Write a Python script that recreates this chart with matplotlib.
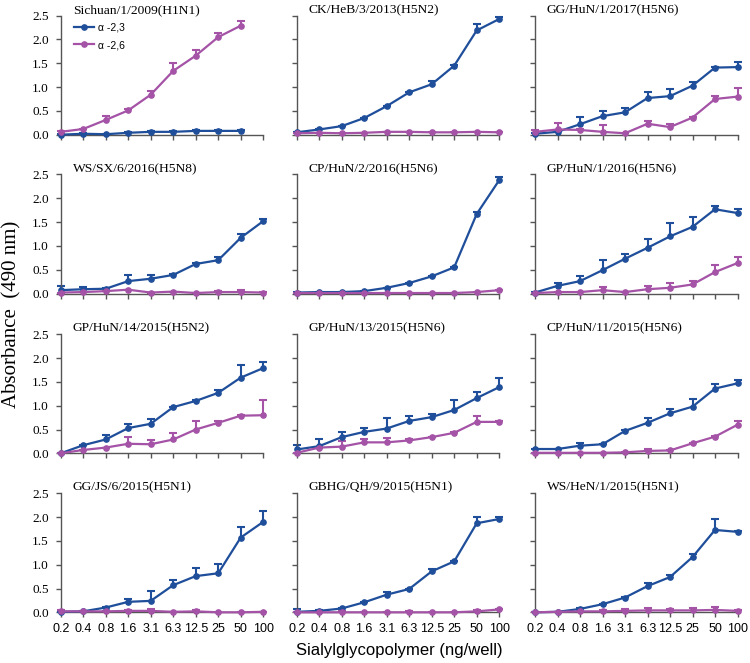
import numpy as np
import matplotlib
matplotlib.use("Agg")
import matplotlib.pyplot as plt

# concentrations (ng/well), one tick per point
conc_labels = ["0.2", "0.4", "0.8", "1.6", "3.1", "6.3", "12.5", "25", "50", "100"]

titles = ["Sichuan/1/2009(H1N1)", "CK/HeB/3/2013(H5N2)", "GG/HuN/1/2017(H5N6)",
          "WS/SX/6/2016(H5N8)", "CP/HuN/2/2016(H5N6)", "GP/HuN/1/2016(H5N6)",
          "GP/HuN/14/2015(H5N2)", "GP/HuN/13/2015(H5N6)", "CP/HuN/11/2015(H5N6)",
          "GG/JS/6/2015(H5N1)", "GBHG/QH/9/2015(H5N1)", "WS/HeN/1/2015(H5N1)"]

nan = np.nan
# alpha-2,3 binding
a23 = [
    [0.00, 0.02, 0.01, 0.04, 0.06, 0.06, 0.08, 0.08, 0.08, nan],
    [0.05, 0.11, 0.18, 0.35, 0.60, 0.89, 1.06, 1.45, 2.19, 2.43],
    [0.02, 0.06, 0.22, 0.39, 0.47, 0.77, 0.81, 1.03, 1.41, 1.42],
    [0.07, 0.09, 0.10, 0.26, 0.31, 0.39, 0.62, 0.70, 1.17, 1.52],
    [0.02, 0.03, 0.03, 0.05, 0.12, 0.22, 0.36, 0.55, 1.67, 2.38],
    [0.02, 0.16, 0.26, 0.49, 0.73, 0.96, 1.20, 1.40, 1.77, 1.69],
    [0.00, 0.17, 0.29, 0.53, 0.62, 0.97, 1.10, 1.27, 1.59, 1.79],
    [0.08, 0.15, 0.34, 0.45, 0.52, 0.68, 0.76, 0.91, 1.16, 1.39],
    [0.09, 0.09, 0.16, 0.19, 0.47, 0.64, 0.84, 0.98, 1.36, 1.47],
    [0.01, 0.02, 0.10, 0.22, 0.24, 0.57, 0.76, 0.82, 1.57, 1.90],
    [0.01, 0.03, 0.08, 0.21, 0.37, 0.49, 0.86, 1.07, 1.87, 1.96],
    [0.00, 0.01, 0.07, 0.17, 0.31, 0.55, 0.74, 1.16, 1.73, 1.69],
]
a23_err = [
    [0.01, 0.01, 0.01, 0.01, 0.01, 0.01, 0.01, 0.01, 0.01, nan],
    [0.01, 0.01, 0.01, 0.01, 0.01, 0.01, 0.07, 0.01, 0.13, 0.05],
    [0.01, 0.01, 0.15, 0.10, 0.10, 0.13, 0.14, 0.07, 0.01, 0.11],
    [0.08, 0.05, 0.02, 0.12, 0.08, 0.02, 0.03, 0.06, 0.08, 0.04],
    [0.01, 0.00, 0.00, 0.00, 0.00, 0.01, 0.01, 0.01, 0.05, 0.07],
    [0.01, 0.07, 0.10, 0.21, 0.09, 0.19, 0.28, 0.21, 0.07, 0.09],
    [0.00, 0.01, 0.09, 0.09, 0.10, 0.01, 0.01, 0.07, 0.27, 0.13],
    [0.10, 0.14, 0.10, 0.08, 0.22, 0.10, 0.07, 0.22, 0.12, 0.20],
    [0.01, 0.01, 0.05, 0.01, 0.03, 0.11, 0.09, 0.16, 0.10, 0.08],
    [0.00, 0.00, 0.01, 0.06, 0.20, 0.10, 0.17, 0.20, 0.22, 0.22],
    [0.06, 0.01, 0.01, 0.01, 0.05, 0.01, 0.06, 0.01, 0.14, 0.04],
    [0.00, 0.00, 0.01, 0.01, 0.01, 0.06, 0.05, 0.07, 0.23, 0.01],
]
# alpha-2,6 binding
a26 = [
    [0.06, 0.12, 0.31, 0.51, 0.84, 1.34, 1.66, 2.05, 2.29, nan],
    [0.03, 0.04, 0.03, 0.04, 0.06, 0.06, 0.05, 0.05, 0.06, 0.05],
    [0.06, 0.11, 0.10, 0.06, 0.03, 0.23, 0.16, 0.36, 0.75, 0.80],
    [0.02, 0.03, 0.05, 0.08, 0.02, 0.04, 0.01, 0.03, 0.03, 0.02],
    [0.01, 0.01, 0.01, 0.01, 0.01, 0.01, 0.01, 0.01, 0.03, 0.07],
    [0.01, 0.03, 0.03, 0.07, 0.03, 0.09, 0.12, 0.19, 0.45, 0.64],
    [0.00, 0.07, 0.12, 0.20, 0.19, 0.29, 0.50, 0.64, 0.79, 0.80],
    [0.01, 0.12, 0.14, 0.23, 0.23, 0.27, 0.34, 0.43, 0.66, 0.66],
    [0.01, 0.01, 0.01, 0.01, 0.02, 0.05, 0.06, 0.21, 0.35, 0.60],
    [0.02, 0.02, 0.02, 0.03, 0.03, 0.01, 0.02, 0.00, 0.00, 0.01],
    [0.00, 0.00, 0.00, 0.00, 0.00, 0.00, 0.00, 0.00, 0.02, 0.06],
    [0.00, 0.01, 0.02, 0.02, 0.03, 0.04, 0.04, 0.04, 0.05, 0.03],
]
a26_err = [
    [0.01, 0.01, 0.08, 0.02, 0.08, 0.16, 0.11, 0.08, 0.09, nan],
    [0.00, 0.00, 0.00, 0.00, 0.00, 0.00, 0.00, 0.00, 0.00, 0.00],
    [0.04, 0.13, 0.01, 0.14, 0.01, 0.05, 0.06, 0.01, 0.06, 0.19],
    [0.00, 0.00, 0.00, 0.00, 0.00, 0.00, 0.00, 0.03, 0.05, 0.01],
    [0.00, 0.00, 0.00, 0.00, 0.00, 0.00, 0.00, 0.00, 0.00, 0.00],
    [0.00, 0.00, 0.00, 0.06, 0.00, 0.06, 0.10, 0.07, 0.14, 0.12],
    [0.00, 0.00, 0.00, 0.15, 0.09, 0.14, 0.18, 0.04, 0.01, 0.32],
    [0.00, 0.00, 0.12, 0.07, 0.10, 0.03, 0.01, 0.01, 0.12, 0.01],
    [0.00, 0.00, 0.00, 0.00, 0.00, 0.04, 0.01, 0.01, 0.01, 0.08],
    [0.02, 0.00, 0.00, 0.02, 0.03, 0.00, 0.02, 0.00, 0.00, 0.00],
    [0.00, 0.00, 0.03, 0.00, 0.00, 0.03, 0.00, 0.00, 0.02, 0.01],
    [0.00, 0.00, 0.00, 0.03, 0.03, 0.04, 0.03, 0.05, 0.06, 0.02],
]

blue = "#1F4E9A"
pink = "#A453A6"
serif = "Liberation Serif"
sans = "Liberation Sans"
spine_col = "#555555"

W, H = 750, 663
fig = plt.figure(figsize=(W / 100, H / 100), dpi=100)

col_left = [60.7, 296.7, 535.0]
row_top = [15.7, 174.5, 334.3, 493.3]
ax_w, ax_h = 202.5, 119.0

x = np.arange(len(conc_labels))


def draw_series(ax, y, err, color):
    y = np.array(y, dtype=float)
    err = np.array(err, dtype=float)
    eb = ax.errorbar(x, y, yerr=[np.zeros_like(err), err], fmt="none",
                     ecolor=color, elinewidth=1.5, capsize=3, capthick=1.5,
                     clip_on=False, zorder=2)
    # one-sided bars: hide the lower caps
    eb[1][0].set_visible(False)
    line, = ax.plot(x, y, "-o", color=color, lw=1.6, ms=3.8, clip_on=False, zorder=3)
    return line


for i, title in enumerate(titles):
    r, c = divmod(i, 3)
    left = col_left[c] / W
    bottom = 1 - (row_top[r] + ax_h) / H
    ax = fig.add_axes([left, bottom, ax_w / W, ax_h / H])

    l1 = draw_series(ax, a23[i], a23_err[i], blue)
    l2 = draw_series(ax, a26[i], a26_err[i], pink)

    ax.set_xlim(0, 9)
    ax.set_ylim(0, 2.5)
    ax.set_yticks(np.arange(0, 2.51, 0.5))
    ax.set_xticks(x)
    for s in ["top", "right"]:
        ax.spines[s].set_visible(False)
    for s in ["left", "bottom"]:
        ax.spines[s].set_color(spine_col)
        ax.spines[s].set_linewidth(1.0)
    ax.tick_params(direction="out", length=3.5, width=1.0, color=spine_col)
    ax.tick_params(axis="y", pad=5)
    ax.tick_params(axis="x", pad=4)

    if c == 0:
        ax.set_yticklabels([f"{v:.1f}" for v in np.arange(0, 2.51, 0.5)],
                           fontfamily=serif, fontsize=9.5)
    else:
        ax.set_yticklabels([])
    if r == 3:
        ax.set_xticklabels(conc_labels, fontfamily=sans, fontsize=9)
    else:
        ax.set_xticklabels([])

    ax.text(0.059, 1.048, title, transform=ax.transAxes, ha="left", va="center",
            fontfamily=serif, fontsize=9.7)

    if i == 0:
        ax.legend([l1, l2], ["α -2,3", "α -2,6"], loc="upper left",
                  bbox_to_anchor=(0.065, 0.945), frameon=False, borderpad=0,
                  borderaxespad=0, handlelength=1.9, handletextpad=0.4,
                  labelspacing=0.75, prop={"family": sans, "size": 7.5})

fig.text(0.016, 1 - 314 / H, "Absorbance  (490 nm)", rotation=90, ha="center",
         va="center", fontfamily=serif, fontsize=15)
fig.text(399 / W, 1 - 651 / H, "Sialylglycopolymer (ng/well)", ha="center",
         va="center", fontfamily=sans, fontsize=12)

fig.savefig("out.png", dpi=100)
